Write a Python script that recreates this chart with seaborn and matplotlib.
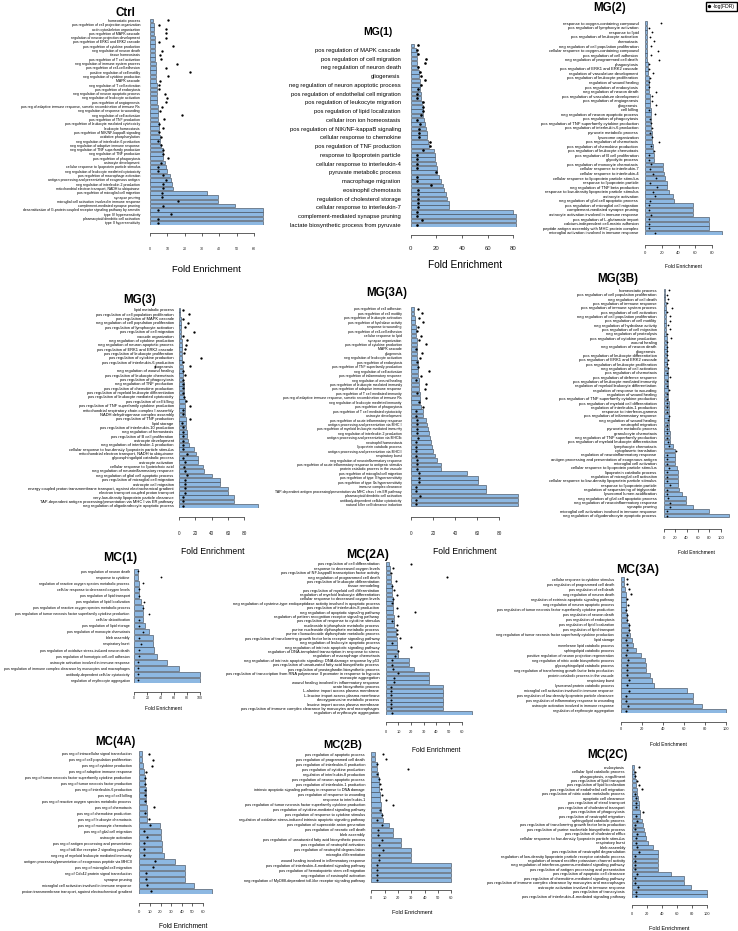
import matplotlib
matplotlib.use("Agg")
import matplotlib.pyplot as plt
from matplotlib.lines import Line2D
import numpy as np
import pandas as pd
import seaborn as sns

plt.rcParams["font.family"] = ["Liberation Sans", "DejaVu Sans"]

# ---------------- DATA ----------------
ctrl_terms = [
    "homeostatic process", "pos regulation of cell projection organization", "actin cytoskeleton organization",
    "pos regulation of MAPK cascade", "regulation of neuron projection development", "pos regulation of ERK1 and ERK2 cascade",
    "pos regulation of cytokine production", "neg regulation of neuron death", "tissue homeostasis",
    "pos regulation of T cell activation", "neg regulation of immune system process", "pos regulation of cell-cell adhesion",
    "positive regulation of cell motility", "neg regulation of cytokine production", "MAPK cascade",
    "neg regulation of T cell activation", "pos regulation of endocytosis", "neg regulation of neuron apoptotic process",
    "neg regulation of leukocyte activation", "pos regulation of angiogenesis",
    "pos reg of adaptive immune response, somatic recombination of immune Rs", "neg regulation of response to wounding",
    "neg regulation of cell activation", "pos regulation of TNF production", "pos regulation of leukocyte mediated cytotoxicity",
    "leukocyte homeostasis", "pos regulation of NIK/NF-kappaB signaling", "oxidative phosphorylation",
    "neg regulation of interleukin-6 production", "neg regulation of adaptive immune response",
    "neg regulation of TNF superfamily production", "neg regulation of TNF production", "pos regulation of phagocytosis",
    "astrocyte development", "cellular response to lipoprotein particle stimulus", "neg regulation of leukocyte mediated cytotoxicity",
    "pos regulation of macrophage activation", "antigen processing and presentation of exogenous antigen",
    "neg regulation of interleukin-2 production", "mitochondrial electron transport, NADH to ubiquinone",
    "pos regulation of microglial cell migration", "synapse pruning", "microglial cell activation involved in immune response",
    "complement-mediated synapse pruning",
    "desensitization of G-protein coupled receptor signaling pathway by arrestin", "type IV hypersensitivity",
    "plasmacytoid dendritic cell activation", "type II hypersensitivity"]
ctrl_fold = [1.9, 2.3, 2.5, 2.5, 2.7, 2.7, 2.9, 2.9, 3.1, 3.1, 3.3, 3.3, 3.5, 3.5, 3.7, 3.8, 3.8, 4.0, 4.0, 4.2,
             4.4, 4.6, 4.6, 4.8, 5.0, 5.2, 5.4, 5.6, 5.8, 6.2, 7.3, 7.5, 7.7, 8.7, 9.0, 9.6, 11.5, 11.9, 12.5, 13.1,
             33.0, 39.4, 39.4, 49.0, 65.0, 65.0, 65.0, 65.0]
ctrl_logfdr = [10.6, 5.4, 9.0, 9.2, 9.0, 5.2, 13.5, 6.7, 5.8, 6.2, 15.4, 9.0, 23.0, 10.6, 5.8, 5.2, 5.2, 8.7, 9.6, 9.2,
               7.1, 5.8, 18.3, 8.1, 5.2, 7.3, 5.4, 6.5, 4.8, 6.2, 7.5, 7.7, 10.6, 6.3, 4.8, 4.8, 7.3, 9.2, 7.7, 7.7,
               6.7, 7.1, 16.3, 7.7, 4.4, 11.9, 4.4, 4.8]

mg1_terms = [
    "", "pos regulation of MAPK cascade", "", "pos regulation of cell migration", "", "neg regulation of neuron death",
    "", "gliogenesis", "", "neg regulation of neuron apoptotic process", "", "pos regulation of endothelial cell migration",
    "", "pos regulation of leukocyte migration", "", "pos regulation of lipid localization", "", "cellular iron ion homeostasis",
    "", "pos regulation of NIK/NF-kappaB signaling", "", "cellular response to chemokine", "", "pos regulation of TNF production",
    "", "response to lipoprotein particle", "", "cellular response to interleukin-4", "", "pyruvate metabolic process",
    "", "macrophage migration", "", "eosinophil chemotaxis", "", "regulation of cholesterol storage",
    "", "cellular response to interleukin-7", "", "complement-mediated synapse pruning", "",
    "lactate biosynthetic process from pyruvate"]
mg1_fold = [2.9, 4.2, 4.7, 4.9, 5.2, 5.7, 6.2, 6.8, 7.0, 7.3, 7.5, 7.8, 8.3, 9.1, 9.4, 9.6, 9.9, 10.4, 11.4, 11.9,
            12.5, 13.0, 13.5, 14.5, 18.2, 18.7, 19.2, 19.7, 20.3, 20.8, 22.3, 23.9, 24.9, 26.0, 27.5, 28.6, 29.6, 30.1,
            80.0, 82.0, 82.0, 82.0]
mg1_logfdr = [6.0, 4.7, 6.0, 12.0, 11.2, 6.0, 7.3, 8.3, 11.2, 8.3, 6.0, 5.2, 5.2, 9.4, 9.4, 9.4, 7.8, 4.7, 7.3, 6.8,
              6.8, 6.8, 15.1, 15.1, 9.4, 4.7, 4.7, 4.7, 4.7, 19.7, 4.7, 5.2, 15.6, 5.7, 5.7, 5.7, 5.7, 5.7, 4.7, 4.7,
              8.6, 4.7]

mg2_terms = [
    "response to oxygen-containing compound", "pos regulation of lymphocyte activation", "response to lipid",
    "pos regulation of leukocyte activation", "chemotaxis", "neg regulation of cell population proliferation",
    "cellular response to oxygen-containing compound", "pos regulation of cell adhesion",
    "neg regulation of programmed cell death", "phagocytosis", "pos regulation of ERK1 and ERK2 cascade",
    "regulation of vasculature development", "pos regulation of leukocyte proliferation", "regulation of wound healing",
    "pos regulation of endocytosis", "neg regulation of neuron death", "pos regulation of vasculature development",
    "pos regulation of angiogenesis", "gliogenesis", "cell killing", "neg regulation of neuron apoptotic process",
    "pos regulation of phagocytosis", "pos regulation of TNF superfamily cytokine production",
    "pos regulation of interleukin-6 production", "pyruvate metabolic process", "lysosome organization",
    "pos regulation of chemotaxis", "pos regulation of chemokine production", "pos regulation of leukocyte chemotaxis",
    "pos regulation of B cell proliferation", "glycolytic process", "pos regulation of monocyte chemotaxis",
    "cellular response to interleukin-7", "cellular response to interleukin-4",
    "cellular response to lipoprotein particle stimulus", "response to lipoprotein particle",
    "neg regulation of TNF beta production", "response to low-density lipoprotein particle stimulus",
    "astrocyte activation", "neg regulation of glial cell apoptotic process", "pos regulation of microglial cell migration",
    "complement-mediated synapse pruning", "astrocyte activation involved in immune response",
    "pos regulation of L-glutamate import", "calcium-independent cell-matrix adhesion",
    "peptide antigen assembly with MHC protein complex", "microglial activation involved in immune response"]
mg2_fold = [1.5, 1.6, 1.8, 2.0, 2.1, 2.2, 2.3, 2.4, 2.6, 2.8, 3.0, 3.6, 4.0, 4.3, 4.6, 5.0, 5.3, 5.6, 6.0, 6.3,
            6.6, 6.8, 7.0, 7.2, 7.6, 8.0, 8.4, 8.8, 9.6, 10.0, 10.4, 20.8, 21.6, 22.4, 23.6, 26.4, 26.4, 28.8, 33.6,
            34.4, 57.6, 57.6, 57.6, 76.4, 76.4, 76.4, 92.4]
mg2_logfdr = [19.2, 4.8, 8.4, 5.6, 10.8, 6.8, 14.8, 6.4, 16.8, 4.8, 4.4, 8.8, 5.6, 4.8, 4.8, 12.8, 8.4, 8.0, 12.8,
              4.8, 12.0, 5.6, 6.8, 7.6, 5.6, 7.6, 16.8, 7.2, 10.4, 4.8, 4.0, 6.8, 5.6, 8.8, 12.8, 5.6, 13.6, 8.8,
              12.0, 5.6, 4.8, 4.8, 7.2, 4.8, 4.8, 4.8, 12.0]

mg3_terms = [
    "lipid metabolic process", "pos regulation of cell population proliferation", "pos regulation of MAPK cascade",
    "neg regulation of cell population proliferation", "pos regulation of lymphocyte activation",
    "pos regulation of cell migration", "vacuole organization", "neg regulation of cytokine production",
    "neg regulation of neuron apoptotic process", "pos regulation of ERK1 and ERK2 cascade",
    "pos regulation of leukocyte proliferation", "pos regulation of cytokine production",
    "pos regulation of interleukin-6 production", "gliogenesis", "neg regulation of wound healing",
    "pos regulation of leukocyte chemotaxis", "pos regulation of phagocytosis", "neg regulation of TNF production",
    "pos regulation of chemokine production", "pos regulation of myeloid leukocyte differentiation",
    "pos regulation of leukocyte mediated cytotoxicity", "pos regulation of cell killing",
    "pos regulation of TNF superfamily cytokine production", "mitochondrial respiratory chain complex I assembly",
    "NADH dehydrogenase complex assembly", "pos regulation of TNF production", "lipid storage",
    "pos regulation of interleukin-10 production", "neg regulation of hemostasis", "pos regulation of B cell proliferation",
    "astrocyte development", "neg regulation of interleukin-1 production",
    "cellular response to low-density lipoprotein particle stimulus",
    "mitochondrial electron transport, NADH to ubiquinone", "glycosphingolipid catabolic process", "astrocyte activation",
    "cellular response to lipoteichoic acid", "neg regulation of neuroinflammatory response",
    "neg regulation of glial cell apoptotic process", "pos regulation of microglial cell migration",
    "astrocyte cell migration", "energy coupled proton transmembrane transport, against electrochemical gradient",
    "electron transport coupled proton transport", "very-low-density lipoprotein particle clearance",
    "TAP-dependent antigen processing/presentation via MHC I via ER pathway",
    "neg regulation of oligodendrocyte apoptotic process"]
mg3_fold = [1.5, 2.0, 2.3, 2.5, 2.8, 3.0, 3.2, 3.5, 3.7, 3.9, 4.1, 4.3, 4.5, 4.8, 5.0, 5.3, 5.6, 6.0, 6.3, 6.6,
            7.0, 7.5, 8.0, 8.2, 8.2, 8.5, 8.8, 9.5, 10.0, 10.5, 11.0, 12.0, 19.0, 20.5, 23.0, 23.0, 30.0, 31.0, 40.0,
            50.0, 50.0, 60.0, 60.0, 67.0, 67.0, 97.0]
mg3_logfdr = [4.9, 13.0, 5.7, 11.8, 7.8, 18.8, 4.9, 10.6, 9.0, 7.8, 6.5, 26.9, 4.9, 13.9, 4.9, 7.8, 5.7, 5.7, 5.7,
              5.7, 6.5, 9.0, 13.9, 5.7, 5.7, 13.9, 4.1, 4.9, 4.9, 4.9, 4.9, 5.7, 4.9, 9.8, 5.7, 7.8, 6.5, 7.8, 9.8,
              7.8, 7.8, 7.8, 7.8, 4.9, 5.7, 5.7]

mg3a_terms = [
    "pos regulation of cell adhesion", "pos regulation of cell motility", "pos regulation of leukocyte activation",
    "pos regulation of hydrolase activity", "response to wounding", "pos regulation of cell-cell adhesion",
    "cellular response to lipid", "synapse organization", "pos regulation of cytokine production", "MAPK cascade",
    "gliogenesis", "neg regulation of leukocyte activation", "pos regulation of endocytosis",
    "pos regulation of TNF superfamily production", "neg regulation of cell activation",
    "pos regulation of inflammatory response", "neg regulation of wound healing",
    "pos regulation of leukocyte mediated immunity", "pos regulation of adaptive immune response",
    "pos regulation of T cell mediated immunity",
    "pos reg of adaptive immune response, somatic recombination of immune Rs",
    "neg regulation of leukocyte mediated immunity", "pos regulation of phagocytosis",
    "pos regulation of T cell mediated cytotoxicity", "astrocyte development",
    "pos regulation of acute inflammatory response", "antigen processing and presentation via MHC I",
    "pos regulation of myeloid leukocyte mediated immunity", "neg regulation of interleukin-2 production",
    "antigen processing and presentation via MHCIb", "neutrophil homeostasis", "lipoprotein catabolic process",
    "antigen processing and presentation via MHCII", "respiratory burst", "neg regulation of neuroinflammatory response",
    "pos regulation of acute inflammatory response to antigenic stimulus", "protein catabolic process in the vacuole",
    "pos regulation of microglial cell migration", "pos regulation of type II hypersensitivity",
    "pos regulation of type IIa hypersensitivity", "immune complex clearance",
    "TAP-dependent antigen processing/presentation via MHC class I via ER pathway",
    "plasmacytoid dendritic cell activation", "antibody-dependent cellular cytotoxicity",
    "natural killer cell tolerance induction"]
mg3a_fold = [2.7, 2.7, 3.3, 3.6, 3.9, 4.2, 4.5, 4.8, 4.8, 5.0, 5.2, 5.5, 5.8, 6.0, 6.2, 6.4, 6.6, 6.9, 7.2, 7.5,
             7.7, 7.9, 8.5, 10.3, 10.9, 13.0, 14.0, 15.2, 15.8, 17.3, 17.6, 18.5, 20.0, 21.5, 23.0, 27.3, 27.3, 50.6,
             60.6, 60.6, 67.6, 67.6, 97.0, 97.0, 97.0]
mg3a_logfdr = [6.4, 9.7, 7.3, 10.3, 6.1, 4.8, 9.1, 7.3, 13.0, 4.2, 9.4, 8.2, 5.5, 6.4, 16.0, 9.1, 4.2, 13.0, 12.4,
               4.8, 13.0, 7.3, 10.9, 4.5, 4.5, 4.8, 5.5, 5.5, 5.5, 6.4, 4.5, 4.5, 4.5, 4.5, 4.8, 4.8, 4.8, 7.0, 7.3,
               7.3, 3.9, 3.9, 7.9, 4.2, 4.2]

mg3b_terms = [
    "homeostatic process", "pos regulation of cell population proliferation", "neg regulation of cell death",
    "pos regulation of immune response", "pos regulation of immune system process", "pos regulation of cell activation",
    "neg regulation of cell population proliferation", "pos regulation of cell motility",
    "neg regulation of hydrolase activity", "pos regulation of cell migration", "neg regulation of proteolysis",
    "pos regulation of cytokine production", "wound healing", "neg regulation of neuron death", "gliogenesis",
    "pos regulation of leukocyte differentiation", "pos regulation of ERK1 and ERK2 cascade",
    "pos regulation of leukocyte proliferation", "neg regulation of cell activation", "pos regulation of chemotaxis",
    "pos regulation of defense response", "pos regulation of leukocyte mediated immunity",
    "regulation of myeloid leukocyte differentiation", "regulation of response to wounding",
    "regulation of wound healing", "pos regulation of TNF superfamily cytokine production",
    "pos regulation of myeloid cell differentiation", "regulation of interleukin-1 production",
    "response to interferon-gamma", "pos regulation of inflammatory response", "neg regulation of wound healing",
    "neutrophil migration", "pyruvate metabolic process", "granulocyte chemotaxis",
    "neg regulation of TNF superfamily production", "pos regulation of myeloid leukocyte differentiation",
    "lymphocyte chemotaxis", "cytoplasmic translation", "regulation of neuroinflammatory response",
    "antigen processing and presentation of exogenous antigen", "microglial cell activation",
    "cellular response to lipoprotein particle stimulus", "lipoprotein catabolic process",
    "regulation of microglial cell activation", "cellular response to low-density lipoprotein particle stimulus",
    "response to lipoprotein particle", "regulation of sequestering of triglyceride", "lysosomal lumen acidification",
    "neg regulation of glial cell apoptotic process", "neg regulation of neuroinflammatory response",
    "synaptic pruning", "microglial cell activation involved in immune response",
    "neg regulation of oligodendrocyte apoptotic process"]
mg3b_fold = [2.3, 2.7, 3.0, 3.3, 3.5, 3.7, 4.0, 4.2, 4.4, 4.7, 4.9, 5.1, 5.4, 5.6, 5.9, 6.1, 6.3, 6.6, 6.8, 7.0,
             7.3, 7.5, 7.7, 8.0, 8.2, 8.4, 8.7, 8.9, 9.1, 9.4, 9.6, 9.8, 10.1, 10.3, 10.5, 11.1, 15.8, 19.9, 20.5,
             20.5, 20.5, 24.0, 24.6, 24.6, 25.1, 25.7, 26.3, 32.2, 39.2, 39.2, 52.0, 79.0, 114.0]
mg3b_logfdr = [9.4, 5.3, 8.2, 5.3, 14.0, 6.4, 11.1, 11.1, 8.2, 11.1, 6.4, 12.3, 5.3, 5.3, 5.3, 6.4, 7.6, 6.4, 8.2,
               6.4, 11.1, 6.4, 6.4, 8.8, 6.4, 5.3, 5.3, 6.4, 6.4, 8.8, 7.6, 6.4, 6.4, 6.4, 6.4, 7.6, 9.9, 21.6, 5.3,
               5.3, 5.3, 9.9, 5.3, 5.3, 5.3, 11.1, 5.3, 5.3, 8.2, 11.1, 11.1, 5.3, 6.4]

mc1_terms = [
    "pos regulation of neuron death", "response to cytokine",
    "regulation of reactive oxygen species metabolic process", "cellular response to decreased oxygen levels",
    "pos regulation of lipid transport", "pos regulation of lipid localization",
    "pos regulation of reactive oxygen species metabolic process",
    "pos regulation of tumor necrosis factor superfamily cytokine production", "cellular detoxification",
    "pos regulation of lipid storage", "pos regulation of monocyte chemotaxis", "bleb assembly", "respiratory burst",
    "pos regulation of oxidative stress-induced neuron death", "pos regulation of homotypic cell-cell adhesion",
    "astrocyte activation involved in immune response",
    "pos regulation of immune complex clearance by monocytes and macrophages",
    "antibody-dependent cellular cytotoxicity", "regulation of erythrocyte aggregation"]
mc1_fold = [5.1, 5.1, 7.6, 7.6, 7.6, 9.7, 12.8, 12.8, 13.8, 16.3, 23.0, 28.0, 29.0, 30.0, 34.0, 50.5, 68.4,
            100.0, 100.0]
mc1_logfdr = [5.1, 40.8, 12.8, 7.1, 7.1, 15.3, 13.8, 22.4, 7.1, 7.6, 12.8, 7.1, 10.7, 7.6, 7.6, 5.1, 5.1, 6.1, 6.1]

mc2a_terms = [
    "pos regulation of cell differentiation", "response to decreased oxygen levels",
    "pos regulation of NF-kappaB transcription factor activity", "neg regulation of programmed cell death",
    "pos regulation of leukocyte differentiation", "tissue remodeling", "pos regulation of myeloid cell differentiation",
    "regulation of myeloid leukocyte differentiation", "cellular response to decreased oxygen levels",
    "neg regulation of cysteine-type endopeptidase activity involved in apoptotic process",
    "pos regulation of interleukin-8 production", "neg regulation of apoptotic signaling pathway",
    "regulation of pattern recognition receptor signaling pathway", "pos regulation of response to cytokine stimulus",
    "nucleoside triphosphate metabolic process", "purine nucleoside diphosphate metabolic process",
    "purine ribonucleoside diphosphate metabolic process",
    "pos regulation of transforming growth factor beta receptor signaling pathway",
    "neg regulation of leukocyte apoptotic process", "neg regulation of intrinsic apoptotic signaling pathway",
    "regulation of DNA-templated transcription in response to stress", "regulation of macrophage chemotaxis",
    "neg regulation of intrinsic apoptotic signaling: DNA damage response by p53",
    "pos regulation of unsaturated fatty acid biosynthetic process",
    "pos regulation of prostaglandin biosynthetic process",
    "pos regulation of transcription from RNA polymerase II promoter in response to hypoxia",
    "monocyte aggregation", "wound healing involved in inflammatory response", "urate biosynthetic process",
    "L-alanine import across plasma membrane", "L-leucine import across plasma membrane",
    "deoxyguanosine metabolic process", "leucine import across plasma membrane",
    "pos regulation of immune complex clearance by monocytes and macrophages",
    "regulation of erythrocyte aggregation"]
mc2a_fold = [2.9, 3.4, 3.7, 3.9, 4.2, 4.7, 5.3, 5.3, 5.5, 5.5, 6.0, 6.0, 6.3, 6.3, 6.8, 7.9, 8.2, 8.7, 8.9, 9.2,
             9.5, 10.0, 18.7, 18.7, 22.6, 34.0, 34.0, 34.0, 45.5, 45.5, 45.5, 45.5, 45.5, 45.5, 68.4]
mc2a_logfdr = [19.7, 5.5, 4.5, 48.2, 8.2, 5.0, 6.8, 8.9, 6.1, 5.3, 8.9, 22.9, 10.0, 5.0, 8.9, 9.2, 9.2, 11.3, 5.0,
               19.7, 10.0, 7.4, 5.3, 5.3, 6.1, 10.0, 6.6, 6.6, 4.2, 4.5, 4.5, 4.5, 4.5, 4.5, 5.0]

mc3a_terms = [
    "cellular response to cytokine stimulus", "pos regulation of programmed cell death", "pos regulation of cell death",
    "neg regulation of neuron death", "regulation of extrinsic apoptotic signaling pathway",
    "neg regulation of neuron apoptotic process",
    "pos regulation of tumor necrosis factor superfamily cytokine production", "pos regulation of neuron death",
    "pos regulation of endocytosis", "pos regulation of lipid localization", "pos regulation of lipid transport",
    "neg regulation of tumor necrosis factor superfamily cytokine production", "lipid storage",
    "membrane lipid catabolic process", "sphingolipid catabolic process",
    "positive regulation of neuron projection regeneration", "neg regulation of nitric oxide biosynthetic process",
    "glycosphingolipid catabolic process", "neg regulation of transforming growth factor beta production",
    "protein catabolic process in the vacuole", "respiratory burst", "lysosomal protein catabolic process",
    "microglial cell activation involved in immune response",
    "pos regulation of low-density lipoprotein particle clearance", "pos regulation of inflammatory response to wounding",
    "astrocyte activation involved in immune response", "regulation of erythrocyte aggregation"]
mc3a_fold = [2.6, 2.6, 3.2, 4.5, 4.5, 4.5, 4.8, 5.1, 5.1, 7.0, 7.3, 8.3, 9.9, 11.5, 13.7, 19.2, 23.0, 23.6, 24.0,
             27.8, 29.4, 31.0, 62.6, 69.0, 69.0, 77.6, 100.0]
mc3a_logfdr = [5.1, 5.1, 7.0, 8.9, 5.1, 6.1, 4.5, 5.1, 5.1, 7.7, 7.0, 5.1, 4.5, 5.1, 5.1, 4.2, 6.7, 5.1, 5.1, 5.1,
               7.3, 5.8, 7.0, 4.2, 4.2, 6.7, 4.5]

mc4a_terms = [
    "pos reg of intracellular signal transduction", "pos reg of cell population proliferation",
    "pos reg of cytokine production", "pos reg of adaptive immune response",
    "pos reg of tumor necrosis factor superfamily cytokine production", "pos reg of tumor necrosis factor production",
    "pos reg of interleukin-6 production", "pos reg of cell killing",
    "pos reg of reactive oxygen species metabolic process", "pos reg of chemotaxis", "pos reg of chemokine production",
    "pos reg of leukocyte chemotaxis", "pos reg of monocyte chemotaxis", "pos reg of glial cell migration",
    "astrocyte activation", "pos reg of antigen processing and presentation",
    "reg of toll-like receptor 2 signaling pathway", "neg reg of myeloid leukocyte mediated immunity",
    "antigen processing/presentation of exogenous peptide via MHCII", "pos reg of microglial cell migration",
    "reg of Cdc42 protein signal transduction", "synapse pruning",
    "microglial cell activation involved in immune response",
    "proton transmembrane transport, against electrochemical gradient"]
mc4a_fold = [2.2, 2.8, 3.8, 4.7, 5.3, 5.3, 6.0, 6.0, 6.0, 6.9, 6.9, 7.5, 19.5, 20.1, 20.4, 21.7, 21.7, 23.6, 34.0,
             43.0, 43.0, 43.0, 51.9, 68.9]
mc4a_logfdr = [9.5, 12.6, 12.0, 6.0, 5.3, 5.3, 5.3, 5.3, 5.7, 13.5, 5.7, 8.8, 9.7, 4.7, 7.2, 4.7, 4.7, 4.7, 14.8,
               13.2, 6.6, 6.6, 6.9, 11.4]

mc2b_terms = [
    "pos regulation of apoptotic process", "pos regulation of programmed cell death",
    "pos regulation of interleukin-6 production", "pos regulation of cytokine production",
    "regulation of interleukin-8 production", "pos regulation of neuron apoptotic process",
    "pos regulation of interleukin-1 production", "intrinsic apoptotic signaling pathway in response to DNA damage",
    "pos regulation of response to wounding", "response to interleukin-1",
    "pos regulation of tumor necrosis factor superfamily cytokine production",
    "pos regulation of cytokine-mediated signaling pathway", "pos regulation of response to cytokine stimulus",
    "regulation of oxidative stress-induced intrinsic apoptotic signaling pathway",
    "pos regulation of superoxide anion generation", "pos regulation of necrotic cell death", "bleb assembly",
    "pos regulation of unsaturated fatty acid biosynthetic process", "pos regulation of neutrophil activation",
    "pos regulation of neutrophil degranulation", "microglia differentiation",
    "wound healing involved in inflammatory response", "pos regulation of interleukin-4-mediated signaling pathway",
    "pos regulation of hematopoietic stem cell migration", "neg regulation of eosinophil activation",
    "neg regulation of MyD88-dependent toll-like receptor signaling pathway"]
mc2b_fold = [2.5, 2.5, 4.0, 4.3, 4.8, 5.5, 6.0, 6.0, 6.5, 6.8, 7.0, 7.5, 8.0, 8.5, 13.0, 16.5, 16.5, 22.0, 22.5,
             30.0, 30.0, 30.0, 60.0, 60.0, 60.0, 60.0]
mc2b_logfdr = [9.0, 10.8, 4.0, 27.8, 4.5, 5.5, 6.5, 7.5, 8.0, 11.0, 16.0, 6.5, 8.0, 4.5, 7.8, 4.8, 4.8, 7.8, 5.5,
               9.0, 6.0, 6.0, 4.5, 4.5, 4.5, 4.5]

mc2c_terms = [
    "endocytosis", "cellular lipid catabolic process", "phagocytosis, engulfment", "pos regulation of lipid transport",
    "pos regulation of lipid localization", "pos regulation of endothelial cell migration",
    "pos regulation of nitric oxide metabolic process", "apoptotic cell clearance", "pos regulation of sterol transport",
    "pos regulation of cholesterol transport", "pos regulation of phagocytosis", "pos regulation of neutrophil migration",
    "sphingolipid catabolic process", "pos regulation of transforming growth factor beta production",
    "pos regulation of purine nucleotide biosynthetic process", "pos regulation of cholesterol efflux",
    "cellular response to low-density lipoprotein particle stimulus", "respiratory burst", "bleb assembly",
    "pos regulation of neutrophil degranulation",
    "regulation of low-density lipoprotein particle receptor catabolic process",
    "regulation of inward rectifier potassium channel activity",
    "neg regulation of interferon-gamma-mediated signaling pathway",
    "pos regulation of antigen processing and presentation", "pos regulation of apoptotic cell clearance",
    "pos regulation of chemokine-mediated signaling pathway",
    "pos regulation of immune complex clearance by monocytes and macrophages",
    "astrocyte activation involved in immune response", "pos regulation of transcytosis",
    "pos regulation of interleukin-4-mediated signaling pathway"]
mc2c_fold = [3.6, 3.6, 4.4, 5.3, 6.2, 6.7, 7.6, 8.0, 9.3, 9.8, 11.1, 11.6, 13.8, 15.1, 16.4, 17.3, 19.1, 22.2, 28.9,
             35.6, 35.6, 35.6, 35.6, 35.6, 52.9, 70.2, 70.2, 79.0, 100.0, 100.0]
mc2c_logfdr = [10.2, 4.4, 4.9, 6.7, 9.3, 13.3, 4.9, 5.3, 5.3, 5.3, 15.6, 5.8, 6.7, 4.9, 4.9, 6.7, 5.8, 5.8, 6.7,
               10.2, 4.0, 4.0, 4.0, 4.0, 7.6, 4.9, 4.9, 8.4, 5.3, 5.3]

# ---------------- DRAWING ----------------
FW, FH = 738, 931
fig = plt.figure(figsize=(FW / 100, FH / 100), dpi=100)
PT = 0.72  # points per pixel at 100 dpi

BAR = "#8db8e2"
EDGE = "#44505e"


def panel(title, terms, fold, logfdr, x0, scale, top, bottom, ticks, lab_fs, lab_gap, tick_fs,
          axis_y, ticklab_y, xlab, title_xy, title_fs, dot_ms=1.6, tick_len=3.0):
    n = len(fold)
    xmax = max(max(fold), ticks[-1]) * 1.03
    ax = fig.add_axes([x0 / FW, 1 - bottom / FH, xmax * scale / FW, (bottom - top) / FH])
    df = pd.DataFrame({"pos": np.arange(n), "fold": fold, "logfdr": logfdr})
    sns.barplot(data=df, x="fold", y="pos", orient="h", color=BAR, saturation=1, width=0.84,
                edgecolor=EDGE, linewidth=0.45, ax=ax)
    ax.plot(df["logfdr"], df["pos"], "o", ms=dot_ms, color="black", mec="none", zorder=5, clip_on=False)
    for s in ("left", "top", "right"):
        ax.spines[s].set_visible(False)
    ax.spines["bottom"].set_position(("outward", (axis_y - bottom) * PT))
    ax.spines["bottom"].set_bounds(ticks[0], ticks[-1])
    ax.spines["bottom"].set_linewidth(0.5)
    ax.spines["bottom"].set_color("#222222")
    ax.set_xlim(0, xmax)
    ax.set_ylim(n - 0.5, -0.5)
    ax.set_yticks(np.arange(n))
    ax.set_yticklabels(terms)
    ax.tick_params(axis="y", length=0, pad=lab_gap * PT, labelsize=lab_fs)
    ax.set_xticks(ticks)
    ax.set_xticklabels([str(t) for t in ticks])
    ax.tick_params(axis="x", length=tick_len * PT, width=0.5, direction="out", bottom=True,
                   labelsize=tick_fs, color="#222222", labelcolor="#222222",
                   pad=max(0.3, (ticklab_y - axis_y - tick_len) * PT - tick_fs * 0.5))
    ax.set_xlabel("")
    ax.set_ylabel("")
    ax.set_facecolor("none")
    fig.text(xlab[0] / FW, 1 - xlab[1] / FH, "Fold Enrichment", ha="center", va="center", fontsize=xlab[2])
    fig.text(title_xy[0] / FW, 1 - title_xy[1] / FH, title, ha="center", va="center",
             fontsize=title_fs, fontweight="bold")
    return ax


panel("Ctrl", ctrl_terms, ctrl_fold, ctrl_logfdr, x0=150, scale=1.735, top=18.3, bottom=225,
      ticks=[0, 10, 20, 30, 40, 50, 60], lab_fs=2.5, lab_gap=10, tick_fs=2.6, axis_y=233, ticklab_y=249,
      xlab=(206, 270, 6.8), title_xy=(125, 12.5), title_fs=8.3, dot_ms=1.7)

panel("MG(1)", mg1_terms, mg1_fold, mg1_logfdr, x0=410.7, scale=1.283, top=43.3, bottom=227,
      ticks=[0, 20, 40, 60, 80], lab_fs=4.2, lab_gap=10, tick_fs=4.3, axis_y=235, ticklab_y=249,
      xlab=(465, 265, 7.3), title_xy=(378, 32), title_fs=7.5, dot_ms=1.9)

panel("MG(2)", mg2_terms, mg2_fold, mg2_logfdr, x0=645.3, scale=0.833, top=21, bottom=235,
      ticks=[0, 20, 40, 60, 80], lab_fs=3.0, lab_gap=7, tick_fs=3.0, axis_y=245, ticklab_y=253,
      xlab=(683, 266, 3.6), title_xy=(610, 8.3), title_fs=8.3, dot_ms=1.3)

panel("MG(3)", mg3_terms, mg3_fold, mg3_logfdr, x0=178.7, scale=0.82, top=307.7, bottom=508,
      ticks=[0, 20, 40, 60, 80], lab_fs=2.9, lab_gap=5, tick_fs=3.4, axis_y=517, ticklab_y=533,
      xlab=(213, 552, 6.2), title_xy=(140, 300), title_fs=8.3, dot_ms=1.7)

panel("MG(3A)", mg3a_terms, mg3a_fold, mg3a_logfdr, x0=411.3, scale=1.1, top=306.7, bottom=506.7,
      ticks=[0, 20, 40, 60, 80], lab_fs=2.5, lab_gap=9.5, tick_fs=3.4, axis_y=517, ticklab_y=533,
      xlab=(465, 552, 6.2), title_xy=(387, 293), title_fs=8.3, dot_ms=1.7)

panel("MG(3B)", mg3b_terms, mg3b_fold, mg3b_logfdr, x0=663.7, scale=0.57, top=288.3, bottom=517.7,
      ticks=[0, 20, 40, 60, 80, 100], lab_fs=3.0, lab_gap=7, tick_fs=3.0, axis_y=529, ticklab_y=538,
      xlab=(696, 552, 3.6), title_xy=(618, 279), title_fs=8.3, dot_ms=1.3)

panel("MC(1)", mc1_terms, mc1_fold, mc1_logfdr, x0=134.3, scale=0.655, top=568.3, bottom=683.3,
      ticks=[0, 20, 40, 60, 80, 100], lab_fs=2.6, lab_gap=4.5, tick_fs=2.6, axis_y=691.7, ticklab_y=697.7,
      xlab=(163, 709, 3.6), title_xy=(120, 558), title_fs=8.8, dot_ms=1.3)

panel("MC(2A)", mc2a_terms, mc2a_fold, mc2a_logfdr, x0=385.7, scale=1.267, top=561.7, bottom=715,
      ticks=[0, 10, 20, 30, 40, 50, 60], lab_fs=2.85, lab_gap=6.3, tick_fs=2.8, axis_y=722, ticklab_y=732,
      xlab=(436, 750, 4.8), title_xy=(368, 555), title_fs=8.8, dot_ms=1.5)

panel("MC(3A)", mc3a_terms, mc3a_fold, mc3a_logfdr, x0=621.3, scale=1.045, top=576.7, bottom=713.3,
      ticks=[0, 20, 40, 60, 80, 100], lab_fs=2.7, lab_gap=7.3, tick_fs=2.8, axis_y=721.7, ticklab_y=729.3,
      xlab=(668, 744, 3.6), title_xy=(638, 570), title_fs=8.8, dot_ms=1.5)

panel("MC(4A)", mc4a_terms, mc4a_fold, mc4a_logfdr, x0=139.3, scale=1.06, top=750.7, bottom=894,
      ticks=[0, 10, 20, 30, 40, 50, 60], lab_fs=2.7, lab_gap=7.7, tick_fs=3.0, axis_y=902.7, ticklab_y=911.7,
      xlab=(183, 927, 4.8), title_xy=(115, 742), title_fs=8.3, dot_ms=1.6)

panel("MC(2B)", mc2b_terms, mc2b_fold, mc2b_logfdr, x0=371.3, scale=1.333, top=751.7, bottom=882.7,
      ticks=[0, 10, 20, 30, 40, 50, 60], lab_fs=2.75, lab_gap=6.3, tick_fs=2.8, axis_y=890, ticklab_y=898,
      xlab=(411.7, 912, 4.0), title_xy=(343, 745), title_fs=8.0, dot_ms=1.5)

panel("MC(2C)", mc2c_terms, mc2c_fold, mc2c_logfdr, x0=631.7, scale=0.75, top=765, bottom=898.3,
      ticks=[0, 20, 40, 60, 80, 100], lab_fs=2.9, lab_gap=6.7, tick_fs=2.8, axis_y=905, ticklab_y=914,
      xlab=(669, 928, 4.0), title_xy=(608, 755), title_fs=8.3, dot_ms=1.5)

# legend (top right)
handle = Line2D([], [], marker="o", ms=1.4, color="black", ls="none")
fig.legend(handles=[handle], labels=["-log(FDR)"], loc="upper right",
           bbox_to_anchor=(737 / FW, 1 - 2 / FH), fontsize=3.6, frameon=True, fancybox=False,
           edgecolor="black", framealpha=1, borderpad=0.4, handletextpad=0.4, handlelength=0.7,
           borderaxespad=0)

fig.savefig("out.png", dpi=100, facecolor="white")
